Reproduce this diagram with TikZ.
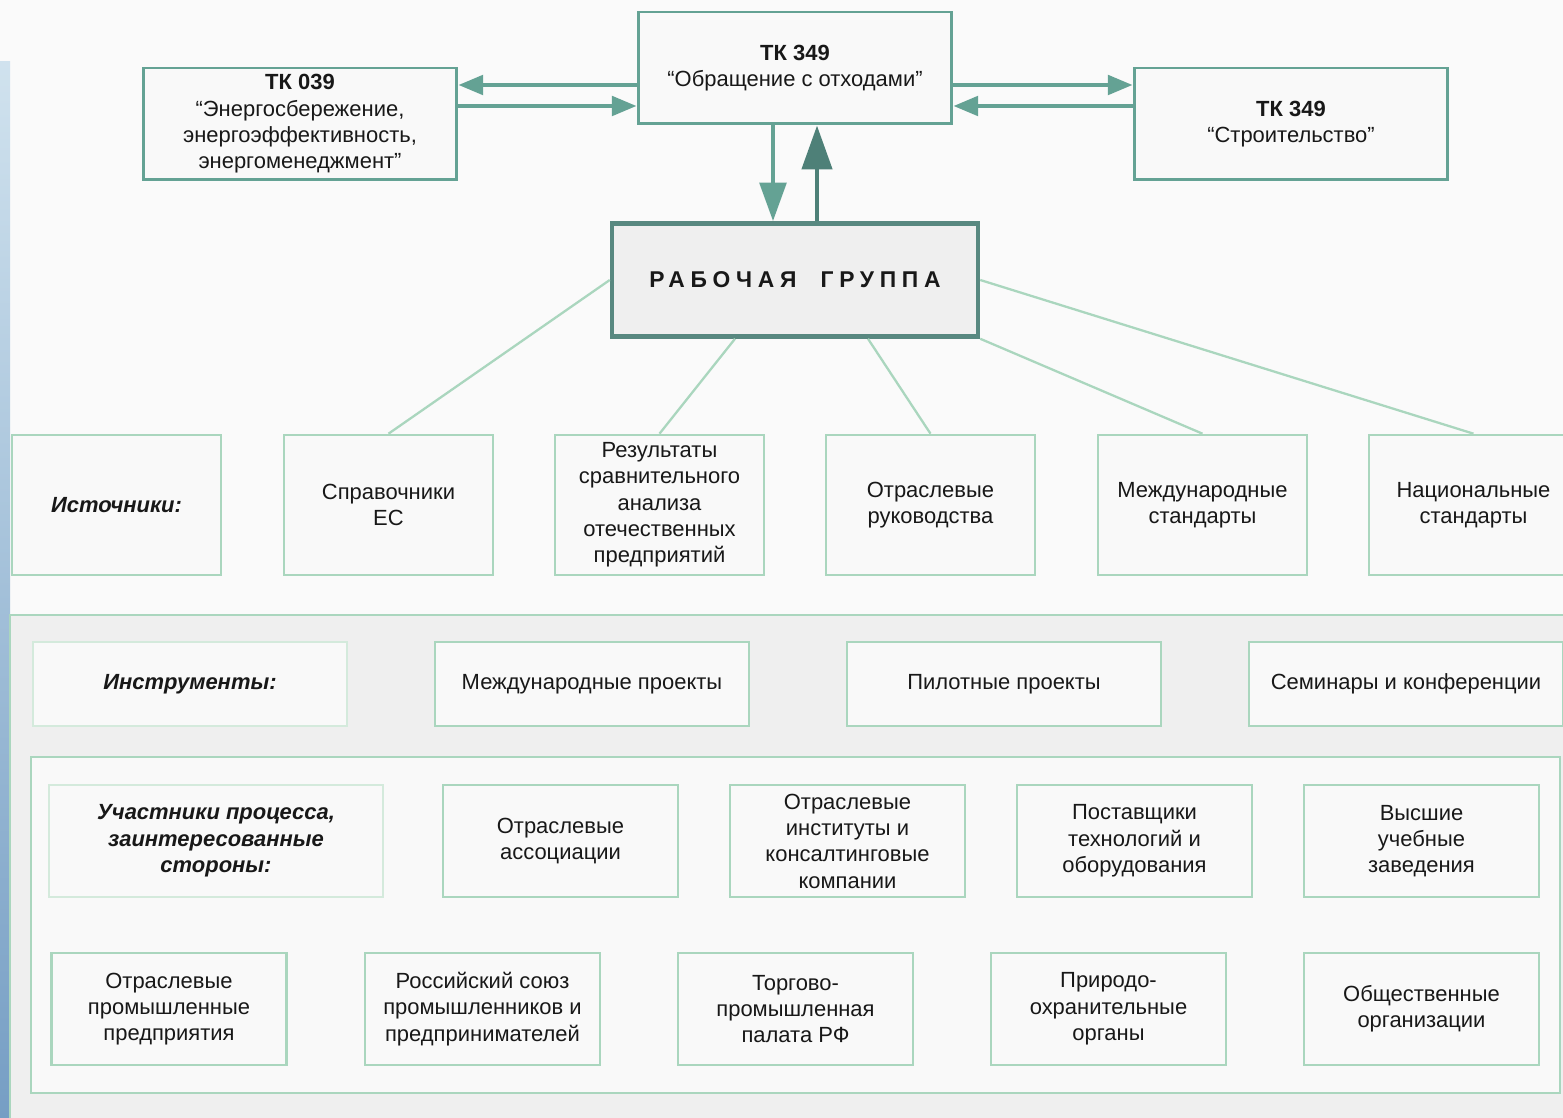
\documentclass[tikz,border=0pt]{standalone}
\usepackage{fontspec}
\setmainfont{Liberation Sans}
\newfontfamily\spacedfont[LetterSpace=25]{Liberation Sans}
\usetikzlibrary{arrows.meta,calc}
\definecolor{tkteal}{RGB}{100,162,148}
\definecolor{upteal}{RGB}{78,128,120}
\definecolor{wgteal}{RGB}{88,136,128}
\definecolor{lgreen}{RGB}{170,214,190}
\definecolor{pgreen}{RGB}{212,234,220}
\definecolor{boxfill}{RGB}{249,249,249}
\definecolor{panelgray}{RGB}{239,239,239}
\definecolor{txt}{RGB}{24,24,24}
\definecolor{striptop}{RGB}{208,226,238}
\definecolor{stripbot}{RGB}{118,158,196}

\begin{document}
\begin{tikzpicture}[x=0.02cm, y=-0.02cm, font=\fontsize{12.5}{15}\selectfont, text=txt,
  tkbox/.style={draw=tkteal, line width=1.7pt, fill=boxfill, minimum width=6.28cm, minimum height=2.24cm, align=center, inner sep=1pt},
  srcbox/.style={draw=lgreen, line width=1.5pt, fill=boxfill, minimum width=4.18cm, minimum height=2.8cm, align=center, inner sep=1pt},
  toolbox/.style={draw=lgreen, line width=1.5pt, fill=boxfill, minimum width=6.28cm, minimum height=1.68cm, align=center, inner sep=1pt},
  partbox/.style={draw=lgreen, line width=1.5pt, fill=boxfill, minimum width=4.7cm, minimum height=2.24cm, align=center, inner sep=1pt},
  labeltext/.style={font=\fontsize{12.5}{15}\selectfont\bfseries\itshape},
  labelbox/.style={labeltext, draw=pgreen},
  link/.style={draw=lgreen, line width=1.3pt},
  bigarrow/.style={tkteal, line width=2.3pt, -{Triangle[length=14pt,width=11pt]}}]
\useasboundingbox (0,0) rectangle (1563,1118);
\fill[white!98!black] (0,0) rectangle (1563,1118);

% blue strip at the left edge
\shade[top color=striptop, bottom color=stripbot] (0,62) rectangle (10,1118);

% panels
\filldraw[fill=panelgray, draw=lgreen, line width=1pt] (10,615) rectangle (1580,1130);
\filldraw[fill=boxfill, draw=lgreen, line width=1pt] (31,757) rectangle (1560,1093);

% technical committees
\node[tkbox] (tk039) at (300,124) {\textbf{ТК 039}\\“Энергосбережение,\\энергоэффективность,\\энергоменеджмент”};
\node[tkbox] (tk349) at (795,68) {\textbf{ТК 349}\\“Обращение с отходами”};
\node[tkbox] (tkstr) at (1291,124) {\textbf{ТК 349}\\“Строительство”};

% working group
\node[draw=wgteal, line width=2.6pt, fill=panelgray, minimum width=7.32cm, minimum height=2.26cm,
  font=\fontsize{13}{15}\selectfont\spacedfont\bfseries] (wg) at (795,280) {РАБОЧАЯ \ ГРУППА};

% arrows between the committees
\coordinate (r1) at (0,85);
\coordinate (r2) at (0,106);
\coordinate (c1) at (773,0);
\coordinate (c2) at (817,0);
\draw[bigarrow] (tk349.west |- r1) -- (tk039.east |- r1);
\draw[bigarrow] (tk039.east |- r2) -- (tk349.west |- r2);
\draw[bigarrow] (tk349.east |- r1) -- (tkstr.west |- r1);
\draw[bigarrow] (tkstr.west |- r2) -- (tk349.east |- r2);
\draw[tkteal, line width=2.8pt, -{Triangle[length=22pt,width=15pt]}] (tk349.south -| c1) -- (wg.north -| c1);
\draw[upteal, line width=2.8pt, -{Triangle[length=25pt,width=17pt]}] (wg.north -| c2) -- (tk349.south -| c2);

% sources
\node[srcbox, labeltext] (src) at (116.5,505) {Источники:};
\node[srcbox] (ref) at (388.5,505) {Справочники\\ЕС};
\node[srcbox] (res) at (659.5,505) {Результаты\\сравнительного\\анализа\\отечественных\\предприятий};
\node[srcbox] (ind) at (930.5,505) {Отраслевые\\руководства};
\node[srcbox] (intl) at (1202.5,505) {Международные\\стандарты};
\node[srcbox] (nat) at (1473.5,505) {Национальные\\стандарты};

\draw[link] (wg.west) -- (ref.north);
\draw[link] ([xshift=-1.2cm]wg.south) -- (res.north);
\draw[link] ([xshift=1.46cm]wg.south) -- (ind.north);
\draw[link] (wg.south east) -- (intl.north);
\draw[link] (wg.east) -- (nat.north);

% instruments
\node[toolbox, labelbox] (tools) at (190,684) {Инструменты:};
\node[toolbox] (iproj) at (592,684) {Международные проекты};
\node[toolbox] (pilot) at (1004,684) {Пилотные проекты};
\node[toolbox] (semi) at (1406,684) {Семинары и конференции};

% participants
\node[partbox, labelbox, minimum width=6.68cm] (part) at (216,841) {Участники процесса,\\заинтересованные\\стороны:};
\node[partbox] (assoc) at (560.5,841) {Отраслевые\\ассоциации};
\node[partbox] (inst) at (847.5,841) {Отраслевые\\институты и\\консалтинговые\\компании};
\node[partbox] (supp) at (1134.5,841) {Поставщики\\технологий и\\оборудования};
\node[partbox] (univ) at (1421.5,841) {Высшие\\учебные\\заведения};

\node[partbox] (ent) at (169,1009) {Отраслевые\\промышленные\\предприятия};
\node[partbox] (rspp) at (482.5,1009) {Российский союз\\промышленников и\\предпринимателей};
\node[partbox] (tpp) at (795.5,1009) {Торгово-\\промышленная\\палата РФ};
\node[partbox] (env) at (1108.5,1009) {Природо-\\охранительные\\органы};
\node[partbox] (ngo) at (1421.5,1009) {Общественные\\организации};
\end{tikzpicture}
\end{document}
